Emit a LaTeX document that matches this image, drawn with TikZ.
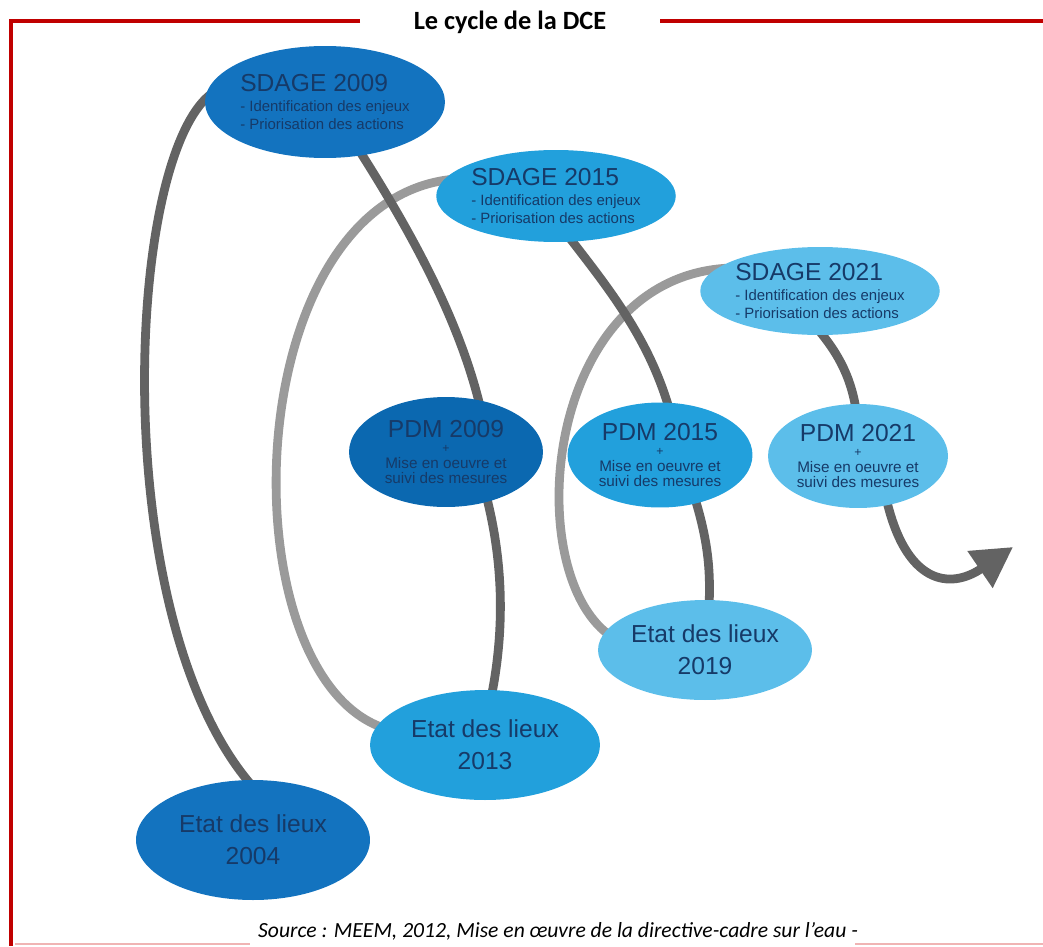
\documentclass[tikz,border=0pt]{standalone}
\usepackage{fontspec}
\setmainfont{Liberation Sans}
\newfontfamily\calibri{Carlito}
\usetikzlibrary{shapes.geometric,arrows.meta,backgrounds}

\definecolor{rougecadre}{HTML}{C00000}
\definecolor{rosebas}{HTML}{F0B4B4}
\definecolor{bleuA}{HTML}{1373BF}
\definecolor{bleuAA}{HTML}{0B68B0}
\definecolor{bleuB}{HTML}{22A0DC}
\definecolor{bleuC}{HTML}{5CBEEA}
\definecolor{texte}{HTML}{163A68}
\definecolor{grisfonce}{HTML}{636363}
\definecolor{grisclair}{HTML}{9A9A9A}

\begin{document}
\begin{tikzpicture}[x=0.02cm,y=-0.02cm,
    bulle/.style={ellipse, inner sep=0pt, text=texte},
    sdage/.style={bulle, align=left, minimum width=4.6cm, minimum height=1.8cm,
      font=\fontsize{8.5}{10.2}\selectfont},
    pdm/.style={bulle, align=center, minimum width=3.7cm, minimum height=2.1cm,
      font=\fontsize{8.7}{8.6}\selectfont},
    etat/.style={bulle, align=center, minimum width=4.4cm, minimum height=2.1cm,
      font=\fontsize{14}{18}\selectfont},
    lien/.style={line width=5pt, grisfonce, shorten <=-6pt, shorten >=-6pt},
    lienclair/.style={lien, grisclair},
    cadre/.style={line width=2.8pt, rougecadre},
  ]
  \useasboundingbox (0,0) rectangle (1043,946);

  % cadre
  \draw[cadre] (360,21) -- (11,21) -- (11,946);
  \draw[cadre] (660,21) -- (1043,21);
  \draw[rosebas, line width=0.6pt] (15,944) -- (250,944);
  \draw[rosebas, line width=0.6pt] (855,944) -- (1043,944);
  \node[font=\calibri\bfseries\fontsize{15}{17}\selectfont] (titre) at (510,22) {Le cycle de la DCE};
  \node[font=\calibri\itshape\fontsize{12.3}{14}\selectfont] (source) at (558,931)
    {Source : MEEM, 2012, Mise en œuvre de la directive-cadre sur l’eau -};

  % les bulles
  \node[sdage, fill=bleuA, minimum width=4.8cm, minimum height=2.24cm] (s09) at (325,102)
    {{\fontsize{14}{14}\selectfont SDAGE 2009}\\[1pt]- Identification des enjeux\\- Priorisation des actions};
  \node[sdage, fill=bleuB, minimum width=4.64cm, minimum height=1.84cm] (s15) at (556,196)
    {{\fontsize{14}{14}\selectfont SDAGE 2015}\\[1pt]- Identification des enjeux\\- Priorisation des actions};
  \node[sdage, fill=bleuC, minimum width=4.4cm, minimum height=1.76cm] (s21) at (820,291)
    {{\fontsize{14}{14}\selectfont SDAGE 2021}\\[1pt]- Identification des enjeux\\- Priorisation des actions};

  \node[pdm, fill=bleuAA, minimum width=3.88cm, minimum height=2.2cm] (p09) at (446,452)
    {{\fontsize{14}{14}\selectfont PDM 2009}\\{\fontsize{7}{7}\selectfont +}\\Mise en oeuvre et\\suivi des mesures};
  \node[pdm, fill=bleuB] (p15) at (660,455)
    {{\fontsize{14}{14}\selectfont PDM 2015}\\{\fontsize{7}{7}\selectfont +}\\Mise en oeuvre et\\suivi des mesures};
  \node[pdm, fill=bleuC, minimum width=3.6cm, minimum height=2.08cm] (p21) at (858,456)
    {{\fontsize{14}{14}\selectfont PDM 2021}\\{\fontsize{7}{7}\selectfont +}\\Mise en oeuvre et\\suivi des mesures};

  \node[etat, fill=bleuC, minimum width=4.28cm, minimum height=2cm] (e19) at (705,650) {Etat des lieux\\2019};
  \node[etat, fill=bleuB, minimum width=4.6cm, minimum height=2.2cm] (e13) at (485,745) {Etat des lieux\\2013};
  \node[etat, fill=bleuA, minimum width=4.68cm, minimum height=2.4cm] (e04) at (253,840) {Etat des lieux\\2004};

  \coordinate (suite) at (1013,547);

  % les liens, sous les bulles
  \begin{scope}[on background layer]
    \draw[lien] (s09.178) .. controls (125,150) and (105,620) .. (e04.96);
    \draw[lienclair] (s15.172) .. controls (235,200) and (225,680) .. (e13.170);
    \draw[lien] (s09.305) .. controls (410,230) and (460,320) .. (p09.58);
    \draw[lien] (p09.310) .. controls (506,570) and (503,640) .. (e13.82);
    \draw[lienclair] (s21.168) .. controls (540,280) and (520,580) .. (e19.170);
    \draw[lien] (s15.290) .. controls (610,290) and (650,340) .. (p15.82);
    \draw[lien] (p15.307) .. controls (708,540) and (711,570) .. (e19.85);
    \draw[lien] (s21.274) .. controls (840,355) and (852,380) .. (p21.93);
    \draw[lien, shorten >=0pt, -{Triangle[length=0.8cm, width=0.85cm]}] (p21.301) .. controls (905,585) and (950,590) .. (suite);
  \end{scope}
\end{tikzpicture}
\end{document}
